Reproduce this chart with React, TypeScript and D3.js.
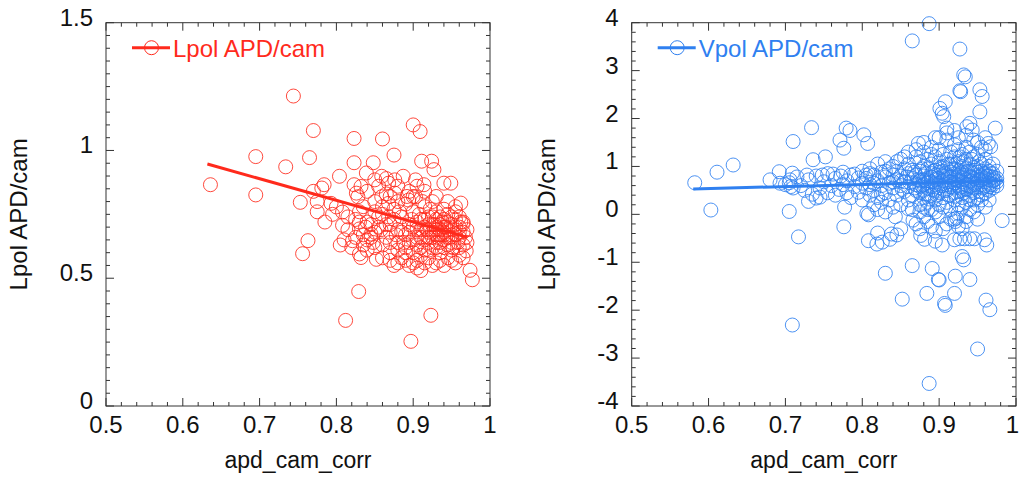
import React from "react";
import * as d3 from "d3";

// ---------- data ----------
const xTicks = [0.5, 0.6, 0.7, 0.8, 0.9, 1];
const xTickLabels = ["0.5", "0.6", "0.7", "0.8", "0.9", "1"];
const leftYTicks = [0, 0.5, 1, 1.5];
const leftYTickLabels = ["0", "0.5", "1", "1.5"];
const rightYTicks = [-4, -3, -2, -1, 0, 1, 2, 3, 4];
const rightYTickLabels = ["-4", "-3", "-2", "-1", "0", "1", "2", "3", "4"];

const xTitle = "apd_cam_corr";
const yTitle = "Lpol APD/cam";
const leftLegend = "Lpol APD/cam";
const rightLegend = "Vpol APD/cam";

// Lpol points [apd_cam_corr, ratio]
const lpolPoints: [number, number][] = [
  [0.744, 1.213], [0.636, 0.866], [0.695, 0.976], [0.695, 0.826], [0.734, 0.936],
  [0.753, 0.797], [0.765, 0.972], [0.77, 1.078], [0.763, 0.647], [0.756, 0.596],
  [0.812, 0.335], [0.829, 0.448], [0.897, 0.253], [0.923, 0.355], [0.977, 0.494],
  [0.974, 0.531], [0.823, 1.047], [0.86, 1.045], [0.9, 1.1], [0.909, 1.074],
  [0.875, 0.982], [0.823, 0.952], [0.848, 0.952], [0.911, 0.958], [0.924, 0.958],
  [0.927, 0.925], [0.94, 0.872], [0.949, 0.872], [0.784, 0.866], [0.781, 0.853],
  [0.804, 0.899], [0.962, 0.794], [0.965, 0.713], [0.969, 0.607],
  [0.808, 0.707], [0.815, 0.74], [0.8, 0.779], [0.793, 0.793], [0.808, 0.759],
  [0.821, 0.647], [0.83, 0.595], [0.832, 0.581], [0.852, 0.574], [0.845, 0.673],
  [0.83, 0.693], [0.826, 0.833], [0.828, 0.819], [0.832, 0.859], [0.823, 0.866],
  [0.839, 0.912], [0.85, 0.885], [0.859, 0.899], [0.868, 0.872], [0.876, 0.885],
  [0.887, 0.899], [0.903, 0.885], [0.914, 0.866], [0.859, 0.819], [0.868, 0.793],
  [0.876, 0.833], [0.894, 0.806], [0.903, 0.819],
  [0.835, 0.78], [0.84, 0.72], [0.845, 0.66], [0.85, 0.8], [0.85, 0.62], [0.855, 0.7],
  [0.86, 0.75], [0.86, 0.58], [0.865, 0.66], [0.865, 0.83], [0.87, 0.71], [0.87, 0.6],
  [0.875, 0.77], [0.875, 0.55], [0.88, 0.64], [0.88, 0.69], [0.88, 0.86], [0.885, 0.58],
  [0.885, 0.74], [0.89, 0.62], [0.89, 0.79], [0.89, 0.67], [0.895, 0.55], [0.895, 0.71],
  [0.9, 0.65], [0.9, 0.6], [0.9, 0.76], [0.9, 0.82], [0.905, 0.69], [0.905, 0.57],
  [0.905, 0.63], [0.91, 0.73], [0.91, 0.66], [0.91, 0.53], [0.915, 0.7], [0.915, 0.61],
  [0.915, 0.78], [0.92, 0.64], [0.92, 0.68], [0.92, 0.74], [0.92, 0.58], [0.925, 0.71],
  [0.925, 0.66], [0.925, 0.62], [0.925, 0.8], [0.93, 0.69], [0.93, 0.73], [0.93, 0.64],
  [0.93, 0.56], [0.93, 0.76], [0.935, 0.67], [0.935, 0.71], [0.935, 0.6], [0.935, 0.74],
  [0.94, 0.7], [0.94, 0.65], [0.94, 0.62], [0.94, 0.77], [0.94, 0.68], [0.945, 0.72],
  [0.945, 0.66], [0.945, 0.58], [0.945, 0.75], [0.95, 0.69], [0.95, 0.64], [0.95, 0.71],
  [0.95, 0.61], [0.955, 0.67], [0.955, 0.73], [0.955, 0.78], [0.96, 0.66], [0.96, 0.7],
  [0.96, 0.62], [0.965, 0.68], [0.965, 0.58], [0.97, 0.64],
  [0.87, 0.68], [0.875, 0.73], [0.895, 0.68], [0.91, 0.69], [0.92, 0.71], [0.93, 0.7],
  [0.935, 0.64], [0.94, 0.73], [0.915, 0.65], [0.925, 0.68], [0.905, 0.72], [0.895, 0.64],
  [0.885, 0.68], [0.93, 0.67], [0.945, 0.69], [0.95, 0.74], [0.92, 0.61], [0.91, 0.59],
  [0.9, 0.56], [0.89, 0.57], [0.88, 0.56], [0.87, 0.57], [0.86, 0.63], [0.85, 0.68],
  [0.84, 0.61], [0.835, 0.67], [0.83, 0.76], [0.825, 0.73], [0.84, 0.84], [0.855, 0.86],
  [0.865, 0.89], [0.87, 0.82], [0.88, 0.8], [0.895, 0.84], [0.905, 0.86], [0.915, 0.84],
  [0.93, 0.82], [0.945, 0.8], [0.955, 0.76], [0.96, 0.74], [0.965, 0.72], [0.97, 0.69],
  [0.965, 0.63], [0.96, 0.59], [0.955, 0.56], [0.95, 0.57], [0.94, 0.55], [0.935, 0.57],
  [0.925, 0.55], [0.915, 0.56], [0.905, 0.54], [0.89, 0.6], [0.88, 0.61], [0.87, 0.64],
  [0.865, 0.71], [0.86, 0.78], [0.855, 0.74], [0.85, 0.76], [0.845, 0.71], [0.84, 0.65],
  [0.835, 0.63], [0.83, 0.72], [0.825, 0.66], [0.82, 0.62], [0.815, 0.69], [0.81, 0.65],
  [0.805, 0.63], [0.795, 0.75], [0.785, 0.72], [0.775, 0.76], [0.775, 0.8], [0.77, 0.84],
  [0.9, 0.7], [0.905, 0.66], [0.91, 0.62], [0.915, 0.73], [0.92, 0.66], [0.925, 0.74],
  [0.93, 0.62], [0.935, 0.69], [0.94, 0.67], [0.945, 0.63], [0.95, 0.67], [0.955, 0.7],
  [0.96, 0.68], [0.928, 0.71], [0.938, 0.72], [0.932, 0.66], [0.942, 0.7], [0.948, 0.66],
  [0.918, 0.69], [0.908, 0.75], [0.898, 0.73], [0.888, 0.64], [0.878, 0.67], [0.868, 0.74],
  [0.858, 0.69], [0.848, 0.64], [0.838, 0.7], [0.882, 0.76], [0.892, 0.82], [0.912, 0.8],
  [0.922, 0.77], [0.952, 0.62], [0.958, 0.64], [0.962, 0.72], [0.968, 0.66],
];
const lpolFit: [number, number][] = [[0.632, 0.947], [0.97, 0.661]];

// Vpol points [apd_cam_corr, ratio]
const vpolPoints: [number, number][] = [
  [0.887, 3.98], [0.865, 3.62], [0.927, 3.45], [0.932, 2.91], [0.934, 2.87],
  [0.927, 2.58], [0.928, 2.56], [0.953, 2.6], [0.956, 2.46], [0.953, 2.14], [0.973, 1.8],
  [0.901, 2.21], [0.904, 2.11], [0.908, 2.35], [0.906, 2.04], [0.936, 1.83], [0.94, 1.9],
  [0.943, 1.76], [0.91, 1.8], [0.92, 1.75], [0.964, 1.48], [0.967, 1.41], [0.873, 1.48],
  [0.895, 1.6], [0.734, 1.81], [0.779, 1.8], [0.784, 1.75], [0.771, 1.55], [0.776, 1.38],
  [0.802, 1.66], [0.807, 1.48], [0.71, 1.52], [0.736, 1.14], [0.752, 1.2], [0.632, 1.03],
  [0.611, 0.88], [0.582, 0.66], [0.603, 0.09], [0.68, 0.72], [0.692, 0.89], [0.706, 0.72],
  [0.693, 0.65], [0.707, 0.58], [0.709, 0.86], [0.705, 0.06], [0.717, -0.47], [0.709, -2.31],
  [0.776, -0.26], [0.777, 0.15], [0.73, 0.27], [0.74, 0.34], [0.83, -1.23], [0.852, -1.77],
  [0.865, -1.07], [0.884, -1.65], [0.891, -1.13], [0.899, -1.36], [0.9, -1.37],
  [0.907, -1.86], [0.908, -1.9], [0.921, -1.29], [0.92, -1.65], [0.94, -1.36], [0.961, -1.79],
  [0.966, -1.99], [0.95, -2.81], [0.887, -3.53], [0.982, -0.13],
  [0.92, -0.53], [0.927, -0.51], [0.933, -0.51], [0.94, -0.51], [0.946, -0.51],
  [0.959, -0.53], [0.962, -0.64], [0.93, -0.88], [0.932, -0.95], [0.923, -0.08],
  [0.921, -0.15], [0.925, 0.02], [0.904, -0.64], [0.895, -0.56], [0.881, -0.52],
  [0.876, -0.44], [0.866, -0.12], [0.806, 0.02], [0.808, -0.01], [0.808, -0.55],
  [0.819, -0.62], [0.826, -0.58], [0.836, -0.52], [0.82, -0.39], [0.838, -0.41],
  [0.845, -0.43], [0.843, -0.05], [0.85, -0.3], [0.86, 0.12], [0.87, -0.2],
  [0.7, 0.62], [0.705, 0.66], [0.71, 0.55], [0.715, 0.78], [0.72, 0.6], [0.725, 0.5],
  [0.73, 0.72], [0.735, 0.42], [0.74, 0.8], [0.745, 0.55], [0.745, 0.36], [0.75, 0.68],
  [0.755, 0.45], [0.755, 0.85], [0.76, 0.6], [0.765, 0.4], [0.765, 0.75], [0.77, 0.52],
  [0.775, 0.88], [0.775, 0.62], [0.78, 0.45], [0.78, 0.7], [0.785, 0.82], [0.785, 0.35],
  [0.79, 0.58], [0.795, 0.76], [0.795, 0.46], [0.8, 0.65], [0.8, 0.9], [0.8, 0.3],
  [0.728, 0.82], [0.748, 0.82], [0.762, 0.84], [0.772, 0.8], [0.79, 0.84], [0.805, 0.82],
  [0.805, 0.55], [0.805, 0.75], [0.81, 0.4], [0.81, 0.95], [0.81, 0.62], [0.815, 0.2],
  [0.815, 0.82], [0.815, 0.5], [0.82, 0.7], [0.82, 0.1], [0.82, 1.05], [0.82, 0.35],
  [0.825, 0.6], [0.825, 0.88], [0.825, 0.25], [0.83, 0.78], [0.83, 0.45], [0.83, 1.1],
  [0.83, 0.05], [0.835, 0.65], [0.835, 0.95], [0.835, 0.3], [0.84, 0.55], [0.84, 0.82],
  [0.84, 0.15], [0.84, 1.0], [0.845, 0.72], [0.845, 0.4], [0.845, 0.9], [0.85, 0.6],
  [0.85, 0.2], [0.85, 1.15], [0.85, 0.8], [0.855, 0.48], [0.855, 0.95], [0.855, 0.68],
  [0.86, 0.3], [0.86, 0.85], [0.86, 0.58], [0.86, 1.05], [0.865, 0.75], [0.865, 0.4],
  [0.865, 0.1], [0.865, 0.92], [0.87, 0.62], [0.87, 1.2], [0.87, 0.5], [0.87, 0.82],
  [0.875, 0.2], [0.875, 0.45], [0.875, 0.7], [0.875, 0.9], [0.875, 1.1], [0.875, 0.58],
  [0.875, 0.05], [0.875, -0.3],
  [0.88, 0.35], [0.88, 0.62], [0.88, 0.8], [0.88, 1.0], [0.88, 1.3], [0.88, 0.15],
  [0.88, 0.5], [0.88, 0.72],
  [0.885, 0.25], [0.885, 0.55], [0.885, 0.75], [0.885, 0.95], [0.885, 1.15], [0.885, 0.42],
  [0.885, 0.65], [0.885, -0.15],
  [0.89, 0.1], [0.89, 0.4], [0.89, 0.68], [0.89, 0.85], [0.89, 1.05], [0.89, 1.4],
  [0.89, 0.58], [0.89, 0.78],
  [0.895, 0.3], [0.895, 0.5], [0.895, 0.72], [0.895, 0.92], [0.895, 1.2], [0.895, 0.05],
  [0.895, 0.62], [0.895, 0.82],
  [0.9, 0.2], [0.9, 0.45], [0.9, 0.65], [0.9, 0.88], [0.9, 1.1], [0.9, 1.35], [0.9, 0.55],
  [0.9, 0.75], [0.9, -0.05],
  [0.905, 0.35], [0.905, 0.6], [0.905, 0.8], [0.905, 1.0], [0.905, 0.15], [0.905, 0.7],
  [0.905, 0.9], [0.905, 1.25],
  [0.91, 0.25], [0.91, 0.5], [0.91, 0.72], [0.91, 0.95], [0.91, 1.15], [0.91, 0.62],
  [0.91, 0.82], [0.91, -0.2], [0.91, 1.55],
  [0.915, 0.4], [0.915, 0.58], [0.915, 0.78], [0.915, 1.05], [0.915, 0.1], [0.915, 0.68],
  [0.915, 0.88], [0.915, 1.3],
  [0.92, 0.3], [0.92, 0.55], [0.92, 0.75], [0.92, 0.95], [0.92, 1.2], [0.92, 0.65],
  [0.92, 0.85], [0.92, 0.45], [0.92, -0.1], [0.92, 1.45],
  [0.925, 0.2], [0.925, 0.48], [0.925, 0.7], [0.925, 0.9], [0.925, 1.1], [0.925, 0.6],
  [0.925, 0.8], [0.925, 1.35], [0.925, -0.25],
  [0.93, 0.35], [0.93, 0.58], [0.93, 0.78], [0.93, 1.0], [0.93, 1.25], [0.93, 0.68],
  [0.93, 0.88], [0.93, 0.5], [0.93, 0.15],
  [0.935, 0.25], [0.935, 0.52], [0.935, 0.72], [0.935, 0.95], [0.935, 1.15], [0.935, 0.62],
  [0.935, 0.82], [0.935, 1.4], [0.935, -0.05],
  [0.94, 0.4], [0.94, 0.6], [0.94, 0.8], [0.94, 1.05], [0.94, 0.7], [0.94, 0.9],
  [0.94, 0.3], [0.94, 1.3], [0.94, 0.1],
  [0.945, 0.3], [0.945, 0.55], [0.945, 0.75], [0.945, 0.98], [0.945, 1.2], [0.945, 0.65],
  [0.945, 0.85], [0.945, 0.45],
  [0.95, 0.35], [0.95, 0.58], [0.95, 0.78], [0.95, 1.0], [0.95, 0.68], [0.95, 0.88],
  [0.95, 0.2], [0.95, 1.25], [0.95, 1.5],
  [0.955, 0.4], [0.955, 0.62], [0.955, 0.8], [0.955, 1.05], [0.955, 0.72], [0.955, 0.9],
  [0.955, 0.3],
  [0.96, 0.45], [0.96, 0.6], [0.96, 0.75], [0.96, 0.95], [0.96, 1.15], [0.96, 0.68],
  [0.96, 0.85], [0.96, 1.35],
  [0.965, 0.5], [0.965, 0.65], [0.965, 0.8], [0.965, 1.0], [0.965, 0.58], [0.965, 0.72],
  [0.965, 0.9],
  [0.97, 0.55], [0.97, 0.7], [0.97, 0.85], [0.97, 1.05], [0.97, 0.62], [0.97, 0.78],
  [0.975, 0.6], [0.975, 0.75], [0.975, 0.9], [0.975, 0.68],
  [0.85, 0.7], [0.852, 0.52], [0.858, 0.78], [0.862, 0.66], [0.868, 0.55], [0.868, 0.88],
  [0.872, 0.72], [0.878, 0.6], [0.878, 0.95], [0.882, 0.85], [0.882, 0.42], [0.887, 0.7],
  [0.887, 0.32], [0.892, 0.9], [0.892, 0.52], [0.897, 0.75], [0.897, 0.4], [0.902, 0.98],
  [0.902, 0.6], [0.907, 0.5], [0.907, 0.85], [0.912, 0.4], [0.912, 0.78], [0.912, 1.05],
  [0.917, 0.62], [0.917, 0.95], [0.922, 0.38], [0.922, 0.72], [0.922, 1.05], [0.927, 0.55],
  [0.927, 0.85], [0.927, 1.2], [0.932, 0.45], [0.932, 0.75], [0.932, 1.1], [0.937, 0.6],
  [0.937, 0.9], [0.942, 0.5], [0.942, 0.78], [0.942, 1.15], [0.947, 0.62], [0.947, 0.92],
  [0.952, 0.48], [0.952, 0.72], [0.952, 1.1], [0.957, 0.55], [0.957, 0.85], [0.962, 0.52],
  [0.962, 0.8], [0.967, 0.62], [0.967, 0.85], [0.972, 0.72], [0.91, 1.7], [0.925, 1.6],
  [0.935, 1.65], [0.945, 1.55], [0.96, 1.6], [0.955, 1.4], [0.93, -0.3], [0.935, -0.15],
  [0.945, 0.05], [0.95, -0.1], [0.96, 0.15], [0.965, 0.3], [0.905, -0.3], [0.915, -0.1],
  [0.895, -0.35], [0.885, 0.1], [0.89, -0.25], [0.88, -0.05], [0.9, 1.6], [0.89, 1.25],
  [0.88, 1.5], [0.87, 1.35], [0.86, 1.3], [0.855, 1.2], [0.845, 1.1], [0.83, 0.9],
  [0.84, 0.68], [0.825, 0.42], [0.815, 0.65], [0.81, 0.85],
];
const vpolFit: [number, number][] = [[0.58, 0.53], [0.983, 0.7]];

// ---------- styling ----------
const RED = "#ff2a1c";
const BLUE = "#2f80f0";
const FONT = "'Liberation Sans', Arial, Helvetica, sans-serif";

type PanelProps = {
  left: number;
  right: number;
  top: number;
  bottom: number;
  yDomain: [number, number];
  yTicks: number[];
  yTickLabels: string[];
  yMinorStep: number;
  points: [number, number][];
  fit: [number, number][];
  color: string;
  legend: string;
  yTitleX: number;
  clampLastX: boolean;
};

function Panel(p: PanelProps) {
  const x = d3.scaleLinear().domain([0.5, 1]).range([p.left, p.right]);
  const y = d3.scaleLinear().domain(p.yDomain).range([p.bottom, p.top]);
  const xMinor = d3.range(0, 26).map((i) => 0.5 + i * 0.02);
  const nY = Math.round((p.yDomain[1] - p.yDomain[0]) / p.yMinorStep);
  const yMinor = d3.range(0, nY + 1).map((i) => p.yDomain[0] + i * p.yMinorStep);
  const line = d3
    .line<[number, number]>()
    .x((d) => x(d[0]))
    .y((d) => y(d[1]));
  const frame = "#333";
  const maj = 8;
  const min = 4;
  const cx = (p.left + p.right) / 2;
  const cy = (p.top + p.bottom) / 2;
  return (
    <g>
      {/* points */}
      <g fill="none" stroke={p.color} strokeWidth={1} strokeOpacity={0.85}>
        {p.points.map((d, i) => (
          <circle key={i} cx={x(d[0])} cy={y(d[1])} r={7} />
        ))}
      </g>
      <path d={line(p.fit) || ""} stroke={p.color} strokeWidth={3} fill="none" />
      {/* frame */}
      <rect
        x={p.left}
        y={p.top}
        width={p.right - p.left}
        height={p.bottom - p.top}
        fill="none"
        stroke={frame}
        strokeWidth={1}
      />
      {/* ticks */}
      <g stroke={frame} strokeWidth={1}>
        {xMinor.map((v, i) => {
          const isMaj = xTicks.some((t) => Math.abs(t - v) < 1e-6);
          const l = isMaj ? maj : min;
          const xx = x(v);
          return (
            <g key={"xt" + i}>
              <line x1={xx} x2={xx} y1={p.bottom} y2={p.bottom - l} />
              <line x1={xx} x2={xx} y1={p.top} y2={p.top + l} />
            </g>
          );
        })}
        {yMinor.map((v, i) => {
          const isMaj = p.yTicks.some((t) => Math.abs(t - v) < 1e-6);
          const l = isMaj ? maj : min;
          const yy = y(v);
          return (
            <g key={"yt" + i}>
              <line x1={p.left} x2={p.left + l} y1={yy} y2={yy} />
              <line x1={p.right} x2={p.right - l} y1={yy} y2={yy} />
            </g>
          );
        })}
      </g>
      {/* tick labels */}
      <g fontFamily={FONT} fontSize={24} fill="#111">
        {xTicks.map((t, i) => {
          const last = p.clampLastX && i === xTicks.length - 1;
          return (
            <text
              key={"xl" + i}
              x={last ? 1019 : x(t)}
              y={433}
              textAnchor={last ? "end" : "middle"}
            >
              {xTickLabels[i]}
            </text>
          );
        })}
        {p.yTicks.map((t, i) => (
          <text key={"yl" + i} x={p.left - 13} y={y(t) + 3} textAnchor="end">
            {p.yTickLabels[i]}
          </text>
        ))}
      </g>
      {/* titles */}
      <text x={cx} y={468} textAnchor="middle" fontFamily={FONT} fontSize={23} fill="#111">
        {xTitle}
      </text>
      <text
        transform={`translate(${p.yTitleX},${cy}) rotate(-90)`}
        textAnchor="middle"
        fontFamily={FONT}
        fontSize={24}
        fill="#111"
      >
        {yTitle}
      </text>
      {/* legend */}
      <line
        x1={p.left + 26}
        x2={p.left + 64}
        y1={47.7}
        y2={47.7}
        stroke={p.color}
        strokeWidth={3}
      />
      <circle cx={p.left + 45.5} cy={47.7} r={7} fill="none" stroke={p.color} strokeWidth={1} />
      <text x={p.left + 67} y={56.5} fontFamily={FONT} fontSize={24} fill={p.color}>
        {p.legend}
      </text>
    </g>
  );
}

export default function App() {
  return (
    <svg
      width={1021}
      height={479}
      style={{ position: "absolute", left: 0, top: 0, background: "#fff" }}
    >
      <rect x={0} y={0} width={1021} height={479} fill="#fff" />
      <Panel
        left={106}
        right={490}
        top={22.7}
        bottom={406}
        yDomain={[0, 1.5]}
        yTicks={leftYTicks}
        yTickLabels={leftYTickLabels}
        yMinorStep={0.05}
        points={lpolPoints}
        fit={lpolFit}
        color={RED}
        legend={leftLegend}
        yTitleX={27}
        clampLastX={false}
      />
      <Panel
        left={631.7}
        right={1016}
        top={22.7}
        bottom={406}
        yDomain={[-4, 4]}
        yTicks={rightYTicks}
        yTickLabels={rightYTickLabels}
        yMinorStep={0.2}
        points={vpolPoints}
        fit={vpolFit}
        color={BLUE}
        legend={rightLegend}
        yTitleX={555}
        clampLastX={true}
      />
    </svg>
  );
}
